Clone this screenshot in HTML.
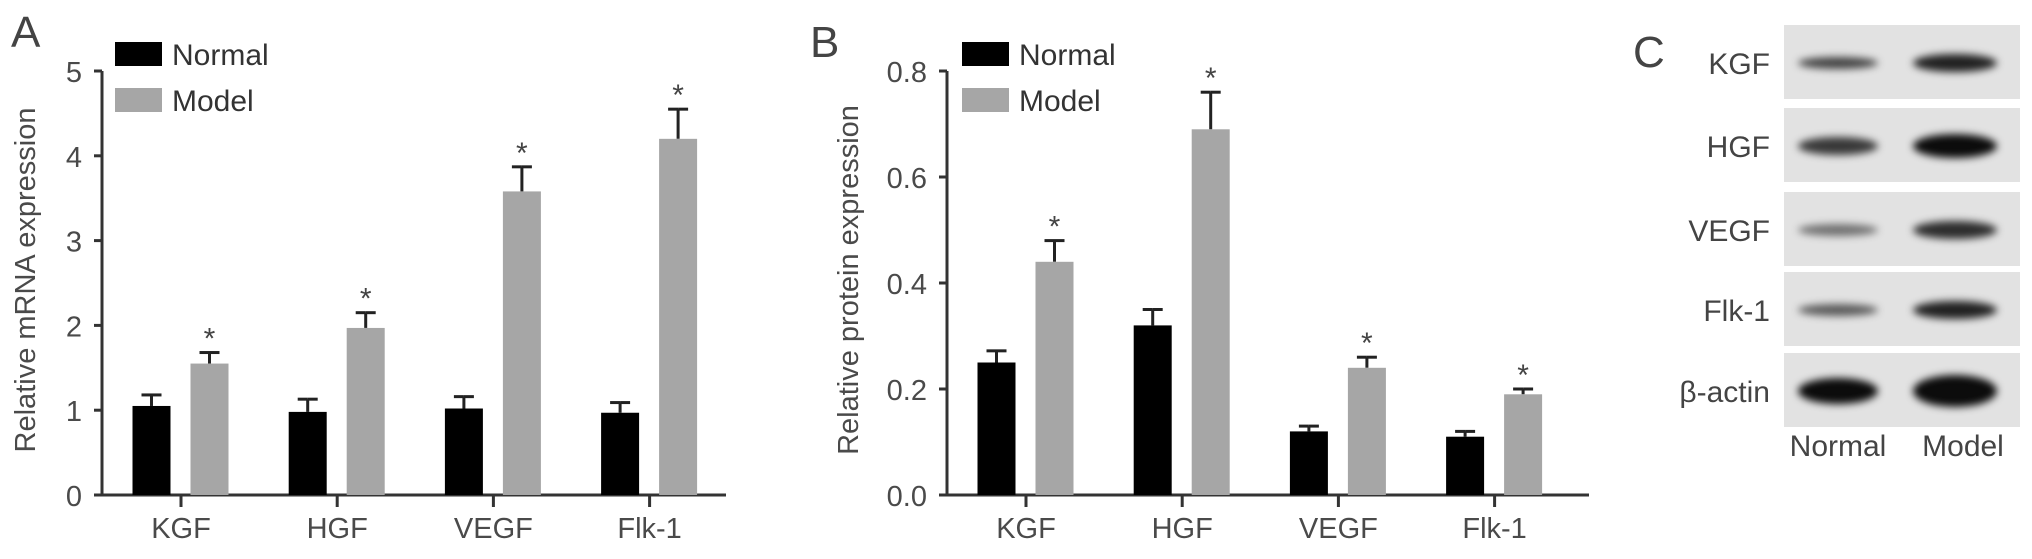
<!DOCTYPE html>
<html><head><meta charset="utf-8"><style>
html,body{margin:0;padding:0;background:#fff;}
svg{display:block;font-family:"Liberation Sans",Arial,sans-serif;}
</style></head><body>
<svg id="fig" width="2032" height="559" viewBox="0 0 2032 559" xmlns="http://www.w3.org/2000/svg">
<defs><filter id="blur" x="-20%" y="-80%" width="140%" height="260%"><feGaussianBlur stdDeviation="4"/></filter></defs>
<g id="panelA"></g>
<g id="panelB"></g>
<g id="panelC"></g>
</svg>
<script>
const categories = ["KGF","HGF","VEGF","Flk-1"];
const mrnaNormal = [1.05,0.98,1.02,0.97];
const mrnaNormalErr = [0.13,0.15,0.14,0.12];
const mrnaModel = [1.55,1.97,3.58,4.2];
const mrnaModelErr = [0.13,0.18,0.29,0.35];
const mrnaTicks = [0,1,2,3,4,5];
const protNormal = [0.25,0.32,0.12,0.11];
const protNormalErr = [0.022,0.03,0.01,0.01];
const protModel = [0.44,0.69,0.24,0.19];
const protModelErr = [0.04,0.07,0.02,0.01];
const protTicks = ["0.0","0.2","0.4","0.6","0.8"];
const blotRows = ["KGF","HGF","VEGF","Flk-1","β-actin"];
const blotNormal = [0.7,0.75,0.5,0.6,0.95];
const blotModel = [0.85,0.95,0.8,0.85,0.95];

const NS="http://www.w3.org/2000/svg";
function mk(parent,tag,attrs,text){const e=document.createElementNS(NS,tag);for(const k in attrs)e.setAttribute(k,attrs[k]);if(text!==undefined)e.textContent=text;parent.appendChild(e);return e;}

function drawChart(g,opt){
  const x0=opt.x0,xEnd=opt.xEnd,y0=495,yTop=71;
  const yS=v=>y0-(v/opt.max)*(y0-yTop);
  const xC=i=>x0+79+i*156.2;
  const col="#333",tc="#4a4a4a";
  // axes
  const ya=mk(g,"line",{x1:x0,y1:yTop,x2:x0,y2:y0,stroke:col,"stroke-width":3});
  
  
  const xa=mk(g,"line",{x1:x0-8,y1:y0,x2:xEnd,y2:y0,stroke:col,"stroke-width":3});
  
  
  opt.ticks.forEach(t=>{
    const y=yS(parseFloat(t));
    mk(g,"line",{x1:x0-8,y1:y,x2:x0,y2:y,stroke:col,"stroke-width":3});
    const tl=mk(g,"text",{x:x0-20,y:y+11,"text-anchor":"end","font-size":29,fill:tc},t);
    
    
  });
  categories.forEach((c,i)=>{
    const cx=xC(i);
    mk(g,"line",{x1:cx,y1:y0,x2:cx,y2:y0+12,stroke:col,"stroke-width":3});
    const cl=mk(g,"text",{x:cx,y:538,"text-anchor":"middle","font-size":29,fill:tc},c);
    
    
    [[opt.n,opt.ne,"#000",-29.5,false],[opt.m,opt.me,"#a6a6a6",28.5,true]].forEach(s=>{
      const bx=cx+s[3];const v=s[0][i],e=s[1][i];
      const top=yS(v+e);
      mk(g,"line",{x1:bx,y1:yS(v),x2:bx,y2:top,stroke:"#222","stroke-width":3});
      mk(g,"line",{x1:bx,y1:top,x2:bx+10,y2:top,stroke:"#222","stroke-width":3});
      mk(g,"line",{x1:bx-10,y1:top,x2:bx,y2:top,stroke:"#222","stroke-width":3});
      const r=mk(g,"rect",{x:bx-19,y:yS(v),width:38,height:y0-yS(v),fill:s[2]});
      
      
      if(s[4]){const st=mk(g,"text",{x:bx,y:top-4,"text-anchor":"middle","font-size":30,fill:"#444"},"*");
        
        }
    });
  });
  const yl=mk(g,"text",{x:0,y:0,transform:`translate(${opt.labX},280) rotate(-90)`,"text-anchor":"middle","font-size":29,fill:tc},opt.ylabel);
  
  
  const pl=mk(g,"text",{x:opt.letX,y:opt.letY,"font-size":44,fill:"#444"},opt.letter);
  
  
  [["Normal","#000",42],["Model","#a6a6a6",88]].forEach(l=>{
    const lb=mk(g,"rect",{x:opt.legX,y:l[2],width:47,height:24,fill:l[1]});
    
    
    const lt=mk(g,"text",{x:opt.legX+57,y:l[2]+23,"font-size":30,fill:"#333"},l[0]);
    
    
  });
}
drawChart(document.getElementById("panelA"),{x0:102,xEnd:726,max:5,ticks:mrnaTicks.map(String),n:mrnaNormal,ne:mrnaNormalErr,m:mrnaModel,me:mrnaModelErr,ylabel:"Relative mRNA expression",labX:35,letter:"A",letX:11,letY:47,legX:115});
drawChart(document.getElementById("panelB"),{x0:947,xEnd:1589,max:0.8,ticks:protTicks,n:protNormal,ne:protNormalErr,m:protModel,me:protModelErr,ylabel:"Relative protein expression",labX:858,letter:"B",letX:810,letY:57,legX:962});

const gc=document.getElementById("panelC");
const cl=mk(gc,"text",{x:1633,y:67,"font-size":44,fill:"#444"},"C");


const rowTop=[25,108,192,272,353];
blotRows.forEach((r,i)=>{
  const t=rowTop[i];
  const bg=mk(gc,"rect",{x:1784,y:t,width:236,height:74,fill:"#e2e2e2"});
  
  
  const cy=t+38;
  const h=i===4?26:(i===1?18:12);
  const b1=mk(gc,"ellipse",{cx:1838,cy:cy,rx:40,ry:h/2,fill:"#000","fill-opacity":blotNormal[i],filter:"url(#blur)"});
  
  
  const b2=mk(gc,"ellipse",{cx:1955,cy:cy,rx:42,ry:h/2+3,fill:"#000","fill-opacity":blotModel[i],filter:"url(#blur)"});
  
  
  const lb=mk(gc,"text",{x:1770,y:cy+11,"text-anchor":"end","font-size":30,fill:"#444"},r);
  
  
});
[["Normal",1838],["Model",1963]].forEach(l=>{
  const t=mk(gc,"text",{x:l[1],y:456,"text-anchor":"middle","font-size":30,fill:"#444"},l[0]);
  
  
});
</script>
</body></html>
